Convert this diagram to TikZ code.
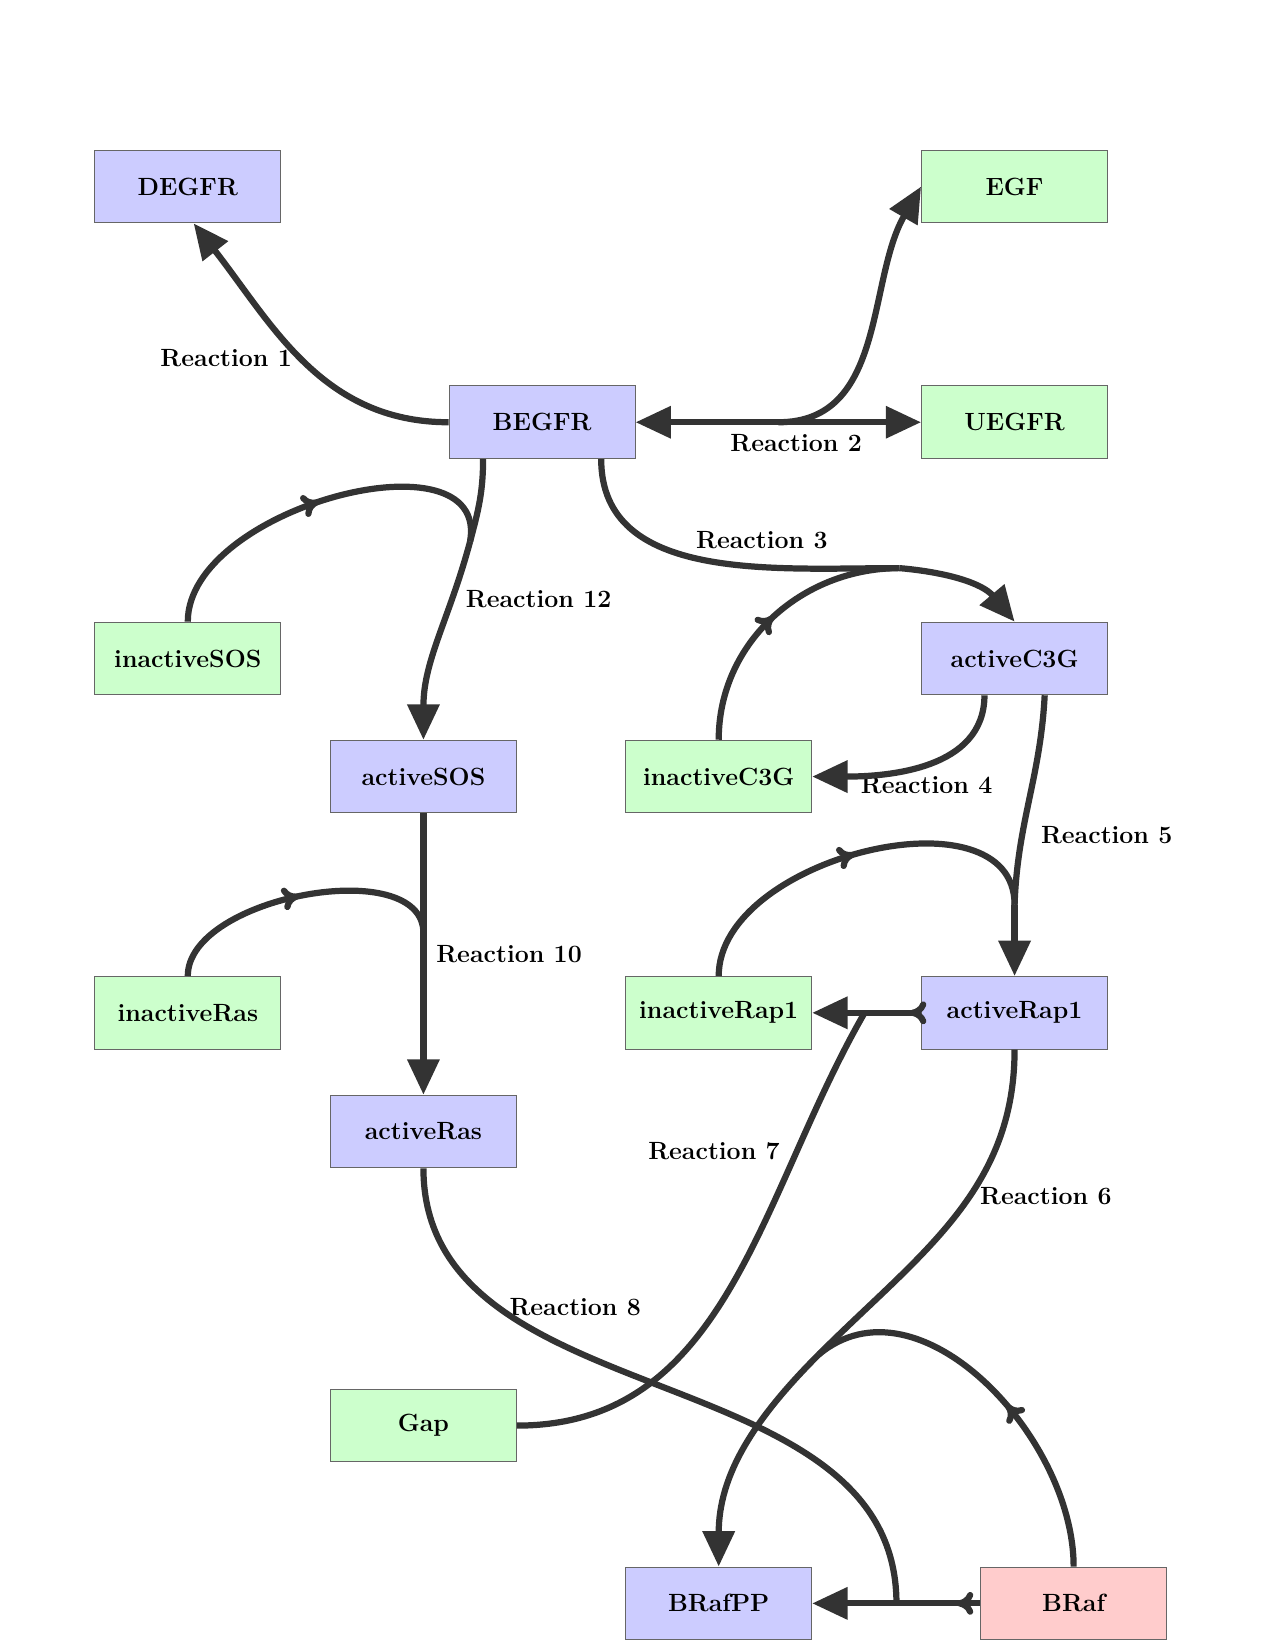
\documentclass[tikz,border=0pt]{standalone}
\usepackage{tikz}
\usetikzlibrary{arrows.meta,positioning,decorations.markings}
\definecolor{SpeciesBlue}{RGB}{204,204,255}
\definecolor{SpeciesGreen}{RGB}{204,255,204}
\definecolor{SpeciesRed}{RGB}{255,204,204}
\definecolor{LineColor}{RGB}{51,51,51}
\tikzset{
  species/.style={draw=black!60, line width=0.5pt, minimum width=3.15cm, minimum height=1.23cm, inner sep=0pt, font=\large\bfseries},
  rxnlabel/.style={font=\large\bfseries, inner sep=1pt},
  rxnline/.style={draw=LineColor, line width=3pt},
  product/.style={rxnline, -{Triangle[length=17pt,width=15pt]}},
  reactant/.style={rxnline, postaction={decorate}, decoration={markings, mark=at position #1 with {\arrow{Computer Modern Rightarrow[length=8pt,width=11pt,round]}}}},
  reactant/.default=0.5,
}
\begin{document}
\begin{tikzpicture}[>=Latex]
    \useasboundingbox (0,0) rectangle (21.59,-27.94);
    \foreach \nm/\x/\y/\fc in {
      DEGFR/3.18/-3.16/SpeciesBlue,
      EGF/17.18/-3.16/SpeciesGreen,
      BEGFR/9.18/-7.15/SpeciesBlue,
      UEGFR/17.18/-7.15/SpeciesGreen,
      inactiveSOS/3.18/-11.15/SpeciesGreen,
      activeC3G/17.18/-11.15/SpeciesBlue,
      activeSOS/7.17/-13.15/SpeciesBlue,
      inactiveC3G/12.17/-13.15/SpeciesGreen,
      inactiveRas/3.18/-17.15/SpeciesGreen,
      inactiveRap1/12.17/-17.15/SpeciesGreen,
      activeRap1/17.18/-17.15/SpeciesBlue,
      activeRas/7.17/-19.16/SpeciesBlue,
      Gap/7.17/-24.14/SpeciesGreen,
      BRafPP/12.17/-27.15/SpeciesBlue,
      BRaf/18.18/-27.15/SpeciesRed%
    }{
      \node[species, fill=\fc] (\nm) at (\x,\y) {\nm};
    }
    \foreach \i/\x/\y in {
      1/3.83/-6.06, 2/13.48/-7.50, 3/12.90/-9.14, 4/15.69/-13.29,
      5/18.74/-14.14, 6/17.71/-20.25, 7/12.09/-19.49, 8/9.74/-22.14,
      10/8.62/-16.16, 12/9.12/-10.15%
    }{
      \node[rxnlabel] (lab\i) at (\x,\y) {Reaction \i};
    }
    % junction points
    \coordinate (j2) at (13.18,-7.15);
    \coordinate (j3) at (15.23,-9.62);
    \coordinate (j5) at (17.18,-15.32);
    \coordinate (j6) at (13.86,-22.94);
    \coordinate (j7) at (14.64,-17.15);
    \coordinate (j8) at (15.18,-27.15);
    \coordinate (j10) at (7.17,-15.8);
    \coordinate (j12) at (7.96,-9.17);
    % Reaction 1
    \draw[product] (BEGFR.west) to[out=180,in=-52] ([xshift=0.1cm]DEGFR.south);
    % Reaction 2
    \draw[product] (j2) -- (BEGFR.east);
    \draw[product] (j2) -- (UEGFR.west);
    \draw[product] (j2) to[out=0,in=240] (EGF.west);
    % Reaction 3
    \draw[rxnline] ([xshift=1cm]BEGFR.south) to[out=-90,in=180] (j3);
    \draw[reactant] (inactiveC3G.north) to[out=90,in=180] (j3);
    \draw[product] (j3) to[out=-5,in=130] (activeC3G.north);
    % Reaction 4
    \draw[product] ([xshift=-0.51cm]activeC3G.south) to[out=-90,in=0] (inactiveC3G.east);
    % Reaction 5
    \draw[rxnline] ([xshift=0.51cm]activeC3G.south) to[out=-93,in=88] (j5);
    \draw[reactant] (inactiveRap1.north) to[out=90,in=90] (j5);
    \draw[product] (j5) -- (activeRap1.north);
    % Reaction 6
    \draw[rxnline] (activeRap1.south) to[out=-90,in=45] (j6);
    \draw[reactant=0.45] (BRaf.north) to[out=90,in=40] (j6);
    \draw[product] (j6) to[out=-135,in=90] (BRafPP.north);
    % Reaction 7
    \draw[reactant=0.2] (activeRap1.west) -- (j7);
    \draw[rxnline] (Gap.east) to[out=0,in=-120] (j7);
    \draw[product] (j7) -- (inactiveRap1.east);
    % Reaction 8
    \draw[rxnline] (activeRas.south) to[out=-90,in=90] (j8);
    \draw[reactant=0.28] (BRaf.west) -- (j8);
    \draw[product] (j8) -- (BRafPP.east);
    % Reaction 10
    \draw[rxnline] (activeSOS.south) -- (j10);
    \draw[reactant] (inactiveRas.north) to[out=90,in=90,looseness=0.85] (j10);
    \draw[product] (j10) -- (activeRas.north);
    % Reaction 12
    \draw[rxnline] ([xshift=-1cm]BEGFR.south) to[out=-90,in=75] (j12);
    \draw[reactant] (inactiveSOS.north) to[out=90,in=80] (j12);
    \draw[product] (j12) to[out=-105,in=90] (activeSOS.north);
\end{tikzpicture}
\end{document}
